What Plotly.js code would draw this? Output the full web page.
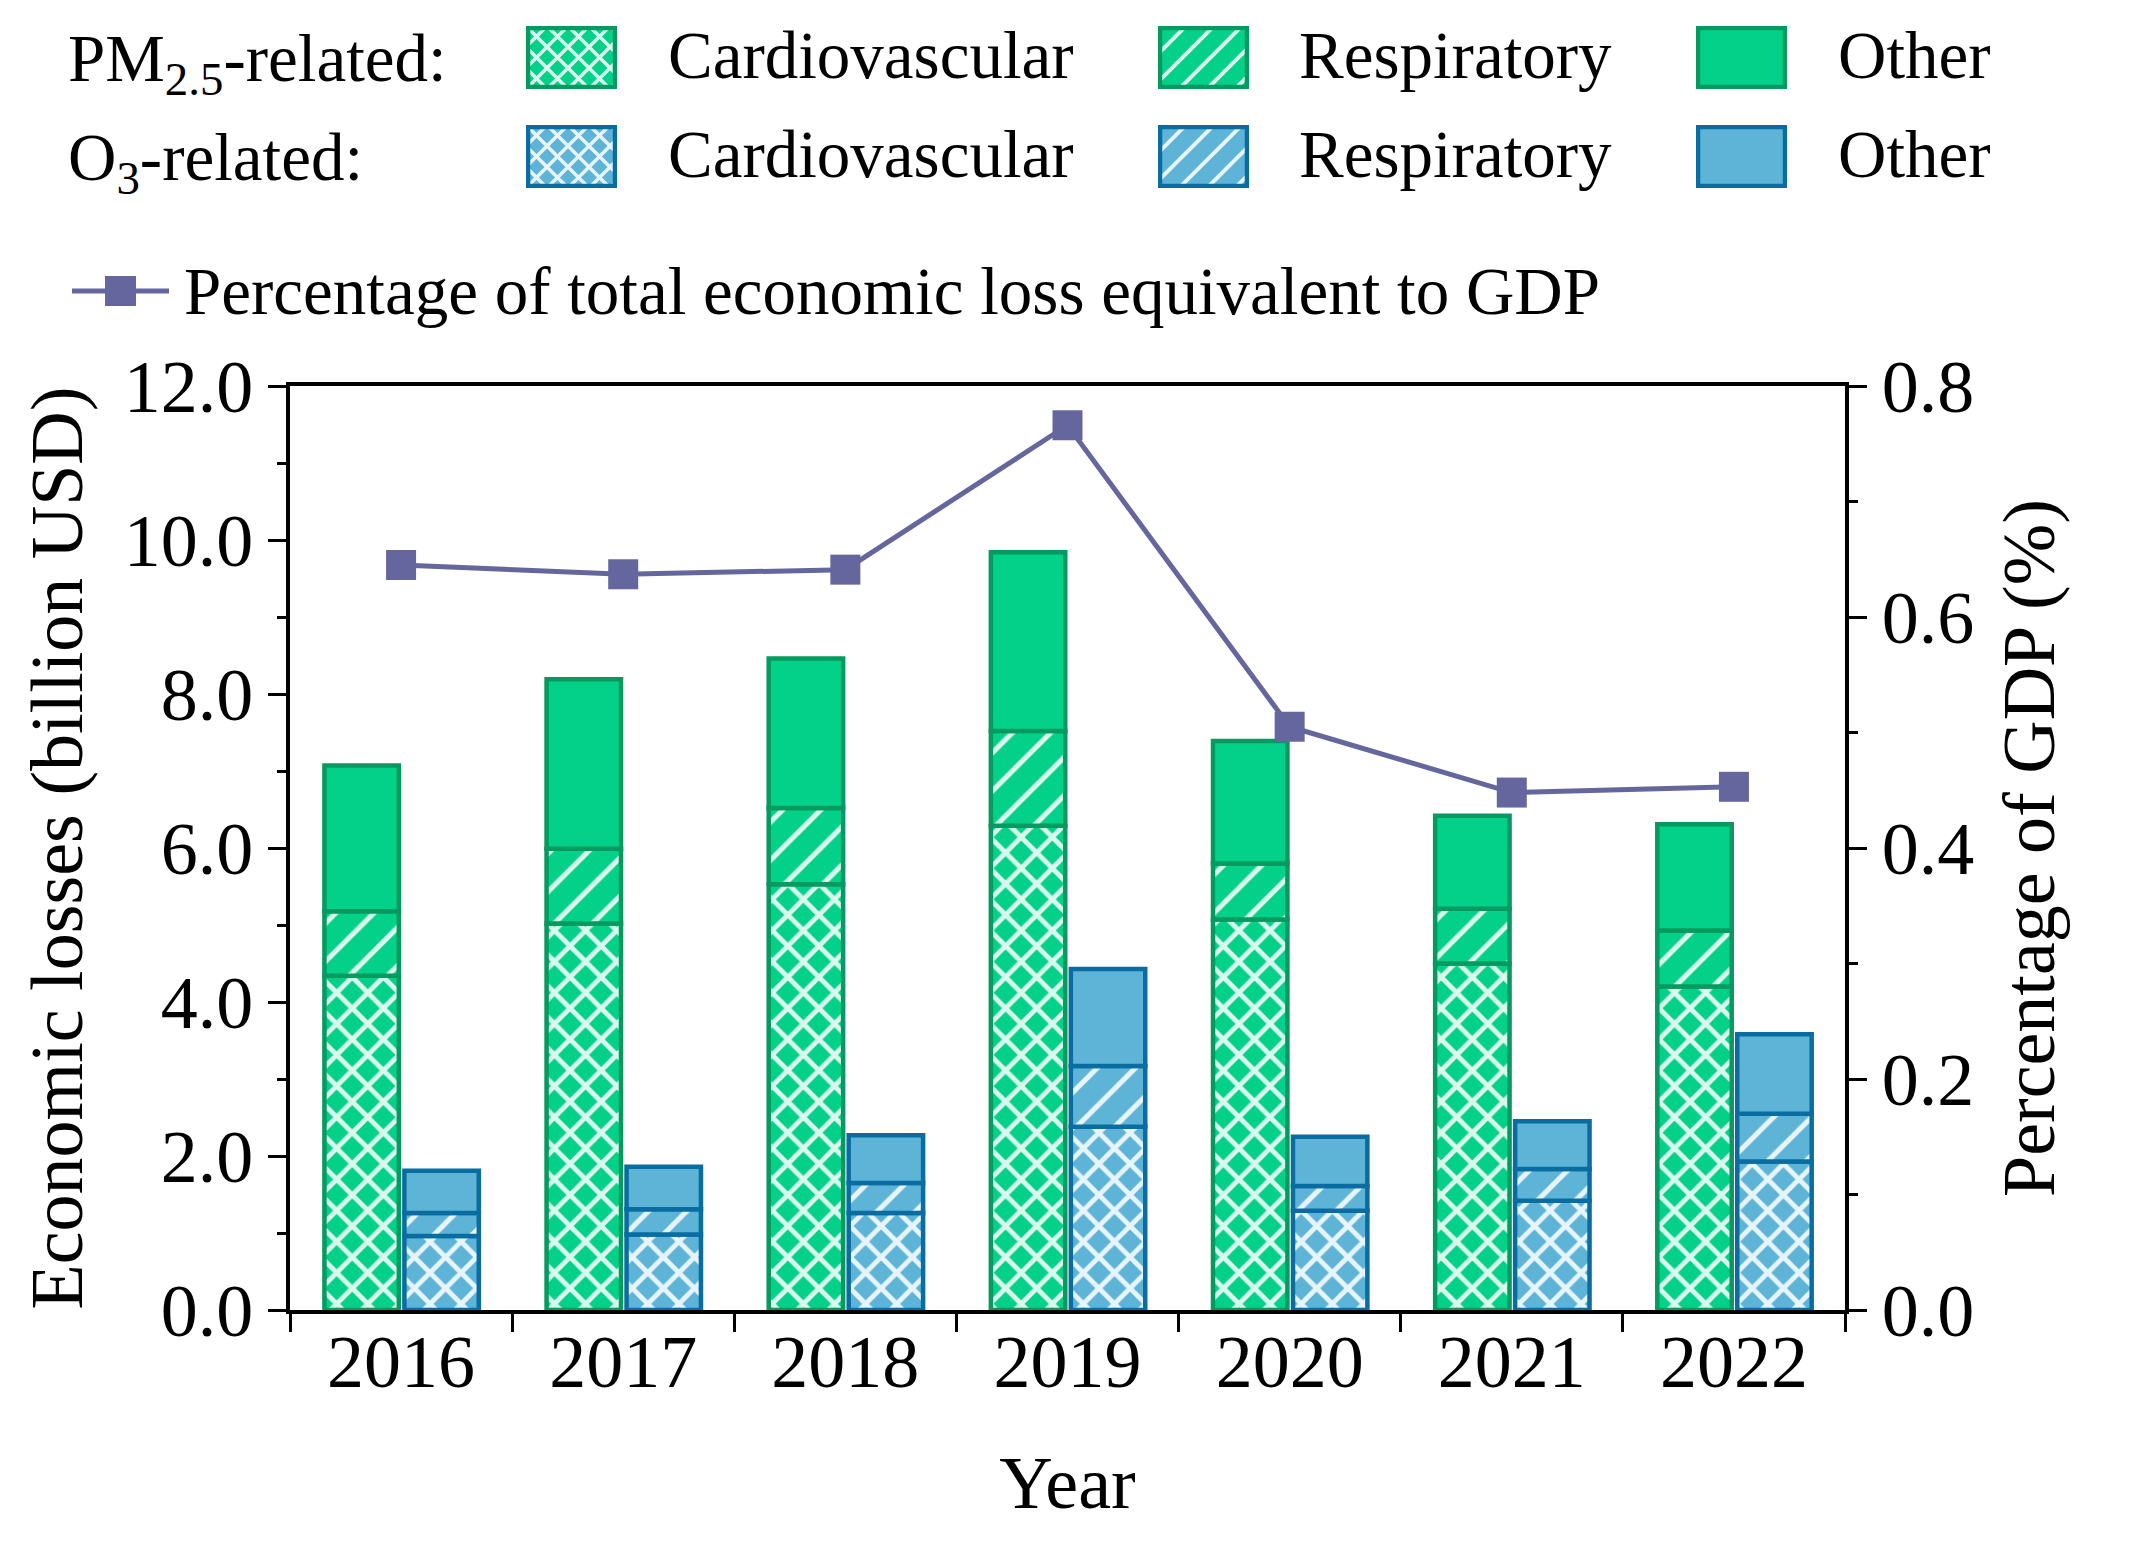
<!DOCTYPE html>
<html><head><meta charset="utf-8">
<script src="https://cdn.plot.ly/plotly-3.0.1.min.js"></script>
<style>html,body{margin:0;padding:0;background:#fff}</style>
</head><body><div id="chart" style="width:2141px;height:1541px"></div>
<script>
// ---- data ----
const years = [2016, 2017, 2018, 2019, 2020, 2021, 2022];
const yearLabels = ['2016', '2017', '2018', '2019', '2020', '2021', '2022'];
const pmCardio = [4.34, 5.02, 5.53, 6.29, 5.07, 4.50, 4.20];
const pmResp   = [0.84, 0.97, 0.99, 1.23, 0.73, 0.71, 0.73];
const pmOther  = [1.89, 2.20, 1.94, 2.32, 1.59, 1.21, 1.38];
const o3Cardio = [0.96, 0.98, 1.26, 2.38, 1.29, 1.42, 1.93];
const o3Resp   = [0.30, 0.33, 0.39, 0.79, 0.32, 0.41, 0.62];
const o3Other  = [0.55, 0.55, 0.62, 1.26, 0.64, 0.62, 1.03];
const gdpPct   = [0.645, 0.637, 0.641, 0.766, 0.505, 0.448, 0.453];

// ---- styling ----
const FONT = 'Liberation Serif, Times New Roman, serif';
const GREEN = '#03D18A', GREEN_EDGE = '#069A60';
const BLUE = '#5DB4D7', BLUE_EDGE = '#0A6DA2';
const LINE = '#66669E';
const W = 2141, H = 1541;
const PL = 290, PR = 1845, PT = 386, PB = 1310;
const X = px => (px - PL) / (PR - PL);
const Y = py => (PB - py) / (PB - PT);

const add = (a, b) => a.map((v, i) => v + b[i]);

function bar(name, vals, base, offset, color, edge, shape) {
  const t = {
    type: 'bar', name: name, x: years, y: vals, base: base,
    offset: offset, width: 0.335, showlegend: false,
    marker: { color: color, line: { color: edge, width: 4.5 } }
  };
  if (shape) {
    t.marker.pattern = {
      shape: shape, fillmode: 'overlay', fgcolor: '#ffffff', fgopacity: 0.85,
      size: shape === 'x' ? 22 : 27, solidity: shape === 'x' ? 0.4 : 0.19
    };
  }
  return t;
}

const pmB2 = pmCardio, pmB3 = add(pmCardio, pmResp);
const o3B2 = o3Cardio, o3B3 = add(o3Cardio, o3Resp);
const zeros = years.map(() => 0);

const traces = [
  bar('PM2.5 Cardiovascular', pmCardio, zeros, -0.345, GREEN, GREEN_EDGE, 'x'),
  bar('PM2.5 Respiratory', pmResp, pmB2, -0.345, GREEN, GREEN_EDGE, '/'),
  bar('PM2.5 Other', pmOther, pmB3, -0.345, GREEN, GREEN_EDGE, null),
  bar('O3 Cardiovascular', o3Cardio, zeros, 0.015, BLUE, BLUE_EDGE, 'x'),
  bar('O3 Respiratory', o3Resp, o3B2, 0.015, BLUE, BLUE_EDGE, '/'),
  bar('O3 Other', o3Other, o3B3, 0.015, BLUE, BLUE_EDGE, null),
  {
    type: 'scatter', mode: 'lines+markers', x: years, y: gdpPct, yaxis: 'y2',
    name: 'Percentage of total economic loss equivalent to GDP', showlegend: false,
    line: { color: LINE, width: 5 },
    marker: { symbol: 'square', size: 30, color: LINE }
  }
];

// ---- custom legend ----
function swatch(fill, edge, shape) {
  let defs = '', over = '';
  if (shape === 'x') {
    defs = "<pattern id='p' width='21' height='21' patternUnits='userSpaceOnUse'><path d='M0,0L21,21M21,0L0,21M-5,5L5,-5M16,26L26,16' stroke='white' stroke-opacity='0.85' stroke-width='3.5' fill='none'/></pattern>";
    over = "<rect x='3' y='3' width='85' height='57' fill='url(#p)'/>";
  } else if (shape === '/') {
    defs = "<pattern id='p' width='28' height='28' patternUnits='userSpaceOnUse'><path d='M0,28L28,0M-7,7L7,-7M21,35L35,21' stroke='white' stroke-opacity='0.85' stroke-width='4' fill='none'/></pattern>";
    over = "<rect x='3' y='3' width='85' height='57' fill='url(#p)'/>";
  }
  const svg = "<svg xmlns='http://www.w3.org/2000/svg' width='91' height='63' viewBox='0 0 91 63'><defs>" + defs +
    "</defs><rect x='2' y='2' width='87' height='59' fill='" + fill + "'/>" + over +
    "<rect x='2' y='2' width='87' height='59' fill='none' stroke='" + edge + "' stroke-width='4.5'/></svg>";
  return 'data:image/svg+xml;charset=utf-8,' + encodeURIComponent(svg);
}

const legCols = [526, 1158, 1696];
const legTextX = [666, 1297, 1836];
const legRows = [26, 125];
const legNames = ['Cardiovascular', 'Respiratory', 'Other'];
const legShapes = ['x', '/', null];
const legFills = [[GREEN, GREEN_EDGE], [BLUE, BLUE_EDGE]];
const legHeads = ['PM<sub>2.5</sub>-related:', 'O<sub>3</sub>-related:'];

const images = [], annotations = [], shapes = [];
legRows.forEach((ry, r) => {
  annotations.push({
    xref: 'paper', yref: 'paper', x: X(66), y: Y(ry + 37), xanchor: 'left', yanchor: 'middle',
    text: legHeads[r], showarrow: false, font: { family: FONT, size: 67, color: '#000' }
  });
  legCols.forEach((cx, c) => {
    images.push({
      source: swatch(legFills[r][0], legFills[r][1], legShapes[c]),
      xref: 'paper', yref: 'paper', x: X(cx), y: Y(ry), sizex: 91 / (PR - PL), sizey: 63 / (PB - PT),
      xanchor: 'left', yanchor: 'top', sizing: 'stretch', layer: 'above'
    });
    annotations.push({
      xref: 'paper', yref: 'paper', x: X(legTextX[c]), y: Y(ry + 29), xanchor: 'left', yanchor: 'middle',
      text: legNames[c], showarrow: false, font: { family: FONT, size: 67, color: '#000' }
    });
  });
});
shapes.push({ type: 'line', xref: 'paper', yref: 'paper', x0: X(72), x1: X(169), y0: Y(291), y1: Y(291),
  line: { color: LINE, width: 5 } });
shapes.push({ type: 'rect', xref: 'paper', yref: 'paper', x0: X(105), x1: X(136), y0: Y(276), y1: Y(306),
  fillcolor: LINE, line: { width: 0 } });
annotations.push({
  xref: 'paper', yref: 'paper', x: X(182), y: Y(291), xanchor: 'left', yanchor: 'middle',
  text: 'Percentage of total economic loss equivalent to GDP', showarrow: false,
  font: { family: FONT, size: 67, color: '#000' }
});

const tickFont = { family: FONT, size: 74, color: '#000' };
const layout = {
  width: W, height: H, autosize: false,
  margin: { l: PL, r: W - PR, t: PT, b: H - PB, pad: 0 },
  paper_bgcolor: '#fff', plot_bgcolor: '#fff',
  barmode: 'overlay', showlegend: false,
  font: { family: FONT, color: '#000' },
  xaxis: {
    range: [2015.5, 2022.5], tickmode: 'array', tickvals: years, ticktext: yearLabels,
    ticks: 'outside', ticklen: 1, tickcolor: 'rgba(0,0,0,0)', ticklabelstandoff: -17,
    showline: true, linecolor: '#000', linewidth: 4, mirror: true,
    showgrid: false, zeroline: false, tickfont: tickFont,
    minor: { tickmode: 'linear', tick0: 2015.5, dtick: 1, ticks: 'outside', ticklen: 18, tickwidth: 3, tickcolor: '#000', showgrid: false },
    title: { text: 'Year', font: tickFont, standoff: 55 }
  },
  yaxis: {
    range: [0, 12], tick0: 0, dtick: 2, tickformat: '.1f',
    ticks: 'outside', ticklen: 18, tickwidth: 3, tickcolor: '#000',
    showline: true, linecolor: '#000', linewidth: 4, showgrid: false, zeroline: false,
    tickfont: tickFont,
    minor: { dtick: 1, ticks: 'outside', ticklen: 9, tickwidth: 3, tickcolor: '#000', showgrid: false },
    title: { text: 'Economic losses (billion USD)', font: tickFont, standoff: 18 }
  },
  yaxis2: {
    overlaying: 'y', side: 'right', range: [0, 0.8], tick0: 0, dtick: 0.2, tickformat: '.1f',
    ticks: 'outside', ticklen: 18, tickwidth: 3, tickcolor: '#000',
    showline: true, linecolor: '#000', linewidth: 4, showgrid: false, zeroline: false,
    tickfont: tickFont,
    minor: { dtick: 0.1, ticks: 'outside', ticklen: 9, tickwidth: 3, tickcolor: '#000', showgrid: false },
    title: { text: 'Percentage of GDP (%)', font: tickFont, standoff: 30 }
  },
  images: images, annotations: annotations, shapes: shapes
};

Plotly.newPlot('chart', traces, layout, { staticPlot: true, displayModeBar: false });
</script>
</body></html>
